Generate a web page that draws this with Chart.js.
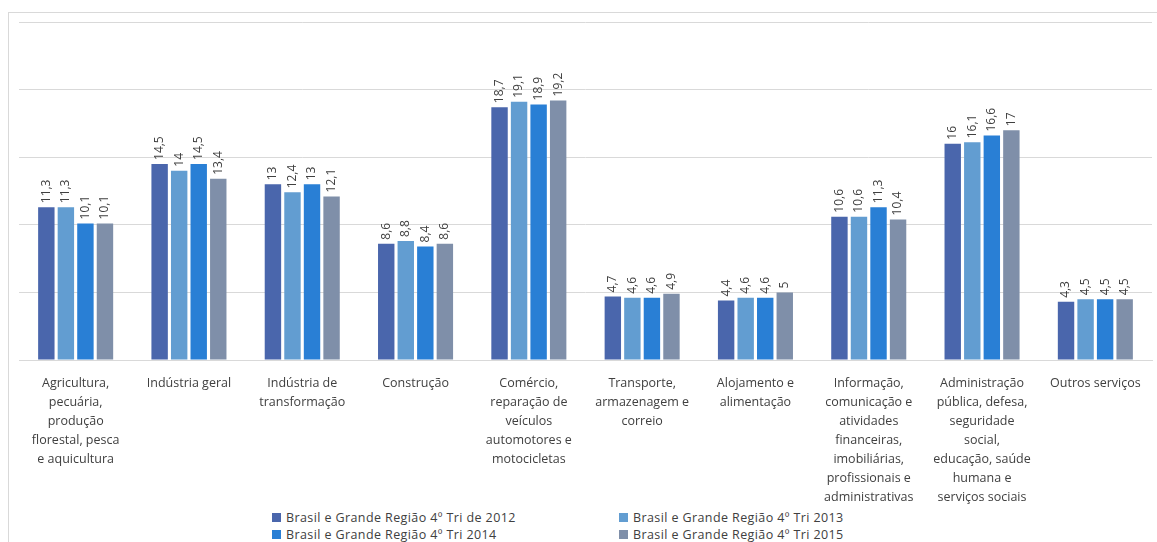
<!DOCTYPE html>
<html>
<head>
<meta charset="utf-8">
<script src="https://cdn.jsdelivr.net/npm/chart.js@4.4.1/dist/chart.umd.min.js"></script>
<style>
  html, body { margin: 0; padding: 0; background: #fff; overflow: hidden; }
  body { width: 1157px; height: 542px; position: relative; font-family: "Open Sans", "Liberation Sans", sans-serif; }
  #frame { position: absolute; left: 8px; top: 12px; width: 1200px; height: 600px; border: 1px solid #d9d9d9; box-sizing: border-box; }
  #wrap { position: absolute; left: 0; top: 0; width: 1157px; height: 505px; }
  #legend { position: absolute; left: 0; top: 509px; width: 1157px; height: 34px; }
  .item { position: absolute; font-size: 12.5px; color: #404040; letter-spacing: 0.4px; line-height: 17px; white-space: nowrap; }
  .item span.box { display: inline-block; width: 9px; height: 9px; margin-right: 5px; vertical-align: 0px; }
</style>
</head>
<body>
<div id="frame"></div>
<div id="wrap"><canvas id="chart"></canvas></div>
<div id="legend"></div>
<script>
// categorias (eixo x), quebradas em linhas como no original
const categorias = [
  ['Agricultura,', 'pecuária,', 'produção', 'florestal, pesca', 'e aquicultura'],
  ['Indústria geral'],
  ['Indústria de', 'transformação'],
  ['Construção'],
  ['Comércio,', 'reparação de', 'veículos', 'automotores e', 'motocicletas'],
  ['Transporte,', 'armazenagem e', 'correio'],
  ['Alojamento e', 'alimentação'],
  ['Informação,', 'comunicação e', 'atividades', 'financeiras,', 'imobiliárias,', 'profissionais e', 'administrativas'],
  ['Administração', 'pública, defesa,', 'seguridade', 'social,', 'educação, saúde', 'humana e', 'serviços sociais'],
  ['Outros serviços']
];

// valores (%)
const tri2012 = [11.3, 14.5, 13, 8.6, 18.7, 4.7, 4.4, 10.6, 16, 4.3];
const tri2013 = [11.3, 14, 12.4, 8.8, 19.1, 4.6, 4.6, 10.6, 16.1, 4.5];
const tri2014 = [10.1, 14.5, 13, 8.4, 18.9, 4.6, 4.6, 11.3, 16.6, 4.5];
const tri2015 = [10.1, 13.4, 12.1, 8.6, 19.2, 4.9, 5, 10.4, 17, 4.5];

const nomesSeries = [
  'Brasil e Grande Região 4º Tri de 2012',
  'Brasil e Grande Região 4º Tri 2013',
  'Brasil e Grande Região 4º Tri 2014',
  'Brasil e Grande Região 4º Tri 2015'
];
const cores = ['#4a66ac', '#629dd1', '#297fd5', '#7f8fa9'];

// rótulos de dados verticais em cima das barras
const rotulosPlugin = {
  id: 'rotulos',
  afterDatasetsDraw(chart) {
    const ctx = chart.ctx;
    ctx.save();
    ctx.font = '12px "Open Sans", "Liberation Sans", sans-serif';
    ctx.fillStyle = '#404040';
    ctx.textAlign = 'left';
    ctx.textBaseline = 'middle';
    chart.data.datasets.forEach((ds, i) => {
      chart.getDatasetMeta(i).data.forEach((bar, j) => {
        const txt = String(ds.data[j]).replace('.', ',');
        ctx.save();
        ctx.translate(bar.x, bar.y - 4);
        ctx.rotate(-Math.PI / 2);
        ctx.fillText(txt, 0, 0);
        ctx.restore();
      });
    });
    ctx.restore();
  }
};

const dados = [tri2012, tri2013, tri2014, tri2015];

const ctx = document.getElementById('chart').getContext('2d');
const chart = new Chart(ctx, {
  type: 'bar',
  data: {
    labels: categorias,
    datasets: dados.map((d, i) => ({
      label: nomesSeries[i],
      data: d,
      backgroundColor: cores[i],
      categoryPercentage: 0.69,
      barPercentage: 0.84
    }))
  },
  options: {
    responsive: true,
    maintainAspectRatio: false,
    animation: false,
    layout: { padding: { left: 19, right: 5, top: 22, bottom: 0 } },
    plugins: {
      legend: { display: false },
      tooltip: { enabled: false }
    },
    scales: {
      x: {
        grid: { display: false, drawTicks: false },
        border: { color: '#d9d9d9', width: 1 },
        ticks: {
          color: '#404040',
          font: { family: '"Open Sans", "Liberation Sans", sans-serif', size: 12.5, lineHeight: 1.52 },
          padding: 14,
          maxRotation: 0,
          autoSkip: false
        },
        afterFit(scale) { scale.height = 145; }
      },
      y: {
        min: 0,
        max: 25,
        ticks: { display: false, stepSize: 5 },
        grid: { color: '#d9d9d9', drawTicks: false },
        border: { display: false }
      }
    }
  },
  plugins: [rotulosPlugin]
});

// legenda em duas colunas
const posLegenda = [[272, 0], [619, 0], [272, 17], [619, 17]];
const legenda = document.getElementById('legend');
nomesSeries.forEach((nome, i) => {
  const el = document.createElement('div');
  el.className = 'item';
  el.style.left = posLegenda[i][0] + 'px';
  el.style.top = posLegenda[i][1] + 'px';
  el.innerHTML = '<span class="box" style="background:' + cores[i] + '"></span>' + nome;
  legenda.appendChild(el);
});
</script>
</body>
</html>
